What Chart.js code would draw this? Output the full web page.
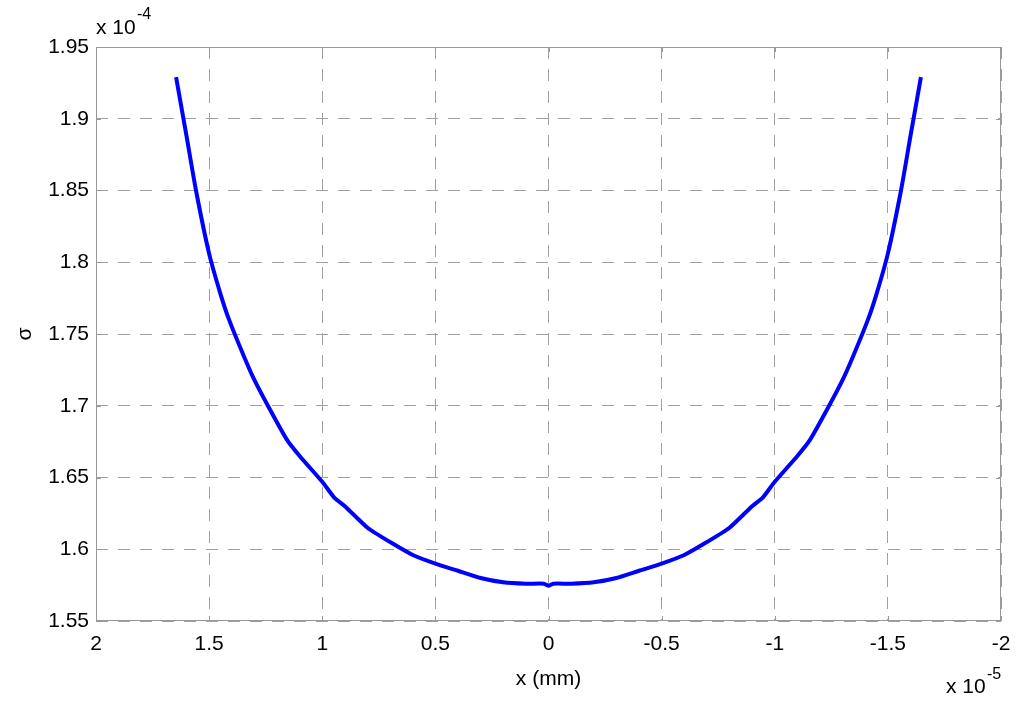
<!DOCTYPE html>
<html>
<head>
<meta charset="utf-8">
<script src="https://cdn.jsdelivr.net/npm/chart.js@4.4.1/dist/chart.umd.min.js"></script>
<style>
  html, body { margin: 0; padding: 0; background: #fff; }
  #wrap { width: 1024px; height: 707px; position: relative; }
</style>
</head>
<body>
<div id="wrap"><canvas id="c" role="img" aria-label="sigma vs x"></canvas></div>
<script>
// x in units of 1e-5 mm, sigma in units of 1e-4
const xVals = [1.646, 1.6, 1.558, 1.5, 1.45, 1.412, 1.345, 1.3, 1.23, 1.155, 1.1, 1.0, 0.947, 0.9, 0.8, 0.7, 0.6, 0.5, 0.4, 0.3, 0.2, 0.1, 0.02, 0,
  -0.02, -0.1, -0.2, -0.3, -0.4, -0.5, -0.6, -0.7, -0.8, -0.9, -0.947, -1.0, -1.1, -1.155, -1.23, -1.3, -1.345, -1.412, -1.45, -1.5, -1.558, -1.6, -1.646];
const sigmaVals = [1.929, 1.888, 1.850, 1.806, 1.778, 1.760, 1.734, 1.718, 1.697, 1.676, 1.665, 1.647, 1.636, 1.630, 1.615, 1.605, 1.596, 1.590, 1.585, 1.580, 1.577, 1.576, 1.576, 1.5745,
  1.576, 1.576, 1.577, 1.580, 1.585, 1.590, 1.596, 1.605, 1.615, 1.630, 1.636, 1.647, 1.665, 1.676, 1.697, 1.718, 1.734, 1.760, 1.778, 1.806, 1.850, 1.888, 1.929];
const xTicks = [2, 1.5, 1, 0.5, 0, -0.5, -1, -1.5, -2];
const yTicks = [1.55, 1.6, 1.65, 1.7, 1.75, 1.8, 1.85, 1.9, 1.95];

const FONT = '"Liberation Sans", Arial, Helvetica, sans-serif';
const points = xVals.map((x, i) => ({ x: x, y: sigmaVals[i] }));

// frame, inward ticks and the exponent labels (MATLAB style)
const matlabFrame = {
  id: 'matlabFrame',
  afterDraw(chart) {
    const { ctx, chartArea: a, scales } = chart;
    ctx.save();
    ctx.strokeStyle = '#999';
    ctx.lineWidth = 1;
    ctx.strokeRect(a.left + 0.5, a.top + 0.5, a.right - a.left - 1, a.bottom - a.top - 1);
    ctx.beginPath();
    xTicks.forEach(v => {
      const px = Math.round(scales.x.getPixelForValue(v)) + 0.5;
      ctx.moveTo(px, a.bottom); ctx.lineTo(px, a.bottom - 5);
      ctx.moveTo(px, a.top); ctx.lineTo(px, a.top + 5);
    });
    yTicks.forEach(v => {
      const py = Math.round(scales.y.getPixelForValue(v)) + 0.5;
      ctx.moveTo(a.left, py); ctx.lineTo(a.left + 5, py);
      ctx.moveTo(a.right, py); ctx.lineTo(a.right - 5, py);
    });
    ctx.stroke();

    ctx.fillStyle = '#000';
    ctx.textBaseline = 'alphabetic';
    ctx.textAlign = 'left';
    ctx.font = '21px ' + FONT;
    ctx.fillText('x 10', 96, 34);
    ctx.fillText('x 10', 946, 693);
    ctx.font = '16px ' + FONT;
    ctx.fillText('-4', 137, 19);
    ctx.fillText('-5', 987, 679);
    ctx.restore();
  }
};

new Chart(document.getElementById('c'), {
  type: 'scatter',
  data: {
    datasets: [{
      data: points,
      showLine: true,
      borderColor: '#0000ff',
      backgroundColor: '#0000ff',
      borderWidth: 4,
      pointRadius: 0,
      tension: 0.2
    }]
  },
  options: {
    responsive: true,
    maintainAspectRatio: false,
    animation: false,
    layout: { padding: { left: 0, top: 47, right: 23, bottom: 0 } },
    plugins: { legend: { display: false }, tooltip: { enabled: false } },
    scales: {
      x: {
        type: 'linear',
        reverse: true,
        min: -2,
        max: 2,
        afterFit: s => { s.height = 86; },
        afterBuildTicks: s => { s.ticks = xTicks.map(v => ({ value: v })); },
        grid: { color: '#a0a0a0', lineWidth: 1, drawTicks: false },
        border: { display: false, dash: [12, 10] },
        ticks: {
          color: '#000',
          font: { family: FONT, size: 21 },
          padding: 11,
          maxRotation: 0,
          callback: v => String(+v.toFixed(2))
        },
        title: { display: true, text: 'x (mm)', color: '#000', font: { family: FONT, size: 21 }, padding: { bottom: 15, top: 0 } }
      },
      y: {
        type: 'linear',
        min: 1.55,
        max: 1.95,
        afterFit: s => { s.width = 96; },
        afterBuildTicks: s => { s.ticks = yTicks.map(v => ({ value: v })); },
        grid: { color: '#a0a0a0', lineWidth: 1, drawTicks: false },
        border: { display: false, dash: [12, 10] },
        ticks: {
          color: '#000',
          font: { family: FONT, size: 21 },
          padding: 7,
          callback: v => String(+v.toFixed(2))
        },
        title: { display: true, text: 'σ', color: '#000', font: { family: FONT, size: 21 }, padding: { top: 13, bottom: 0 } }
      }
    }
  },
  plugins: [matlabFrame]
});
</script>
</body>
</html>
